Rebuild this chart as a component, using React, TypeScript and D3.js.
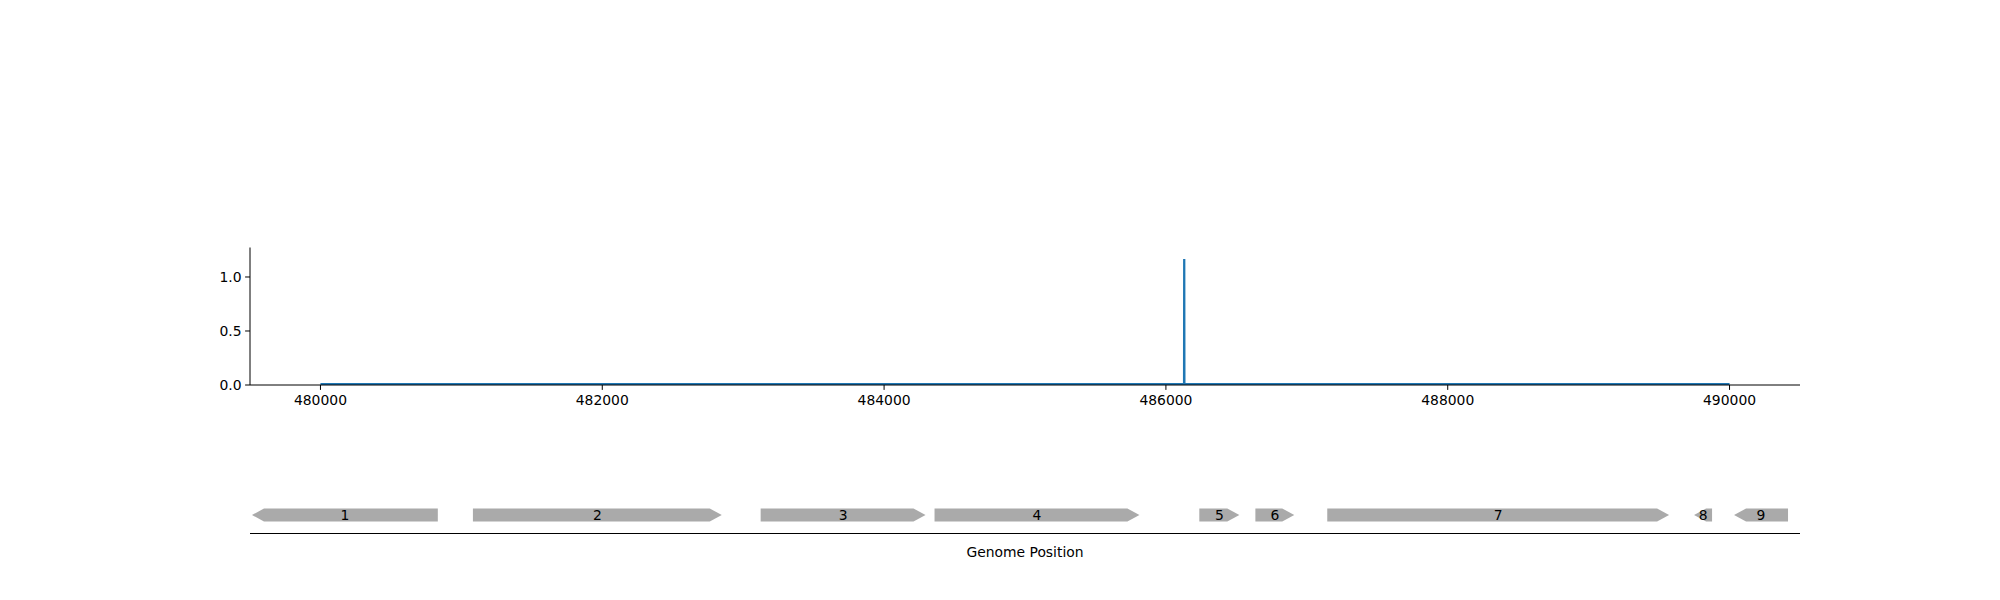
import * as d3 from 'd3';

// coverage trace: flat baseline with one spike
const traceX = [480000, 486128, 486129, 486131, 486132, 490000];
const traceY = [0.01, 0.01, 1.157, 1.157, 0.01, 0.01];

const xTicks = [480000, 482000, 484000, 486000, 488000, 490000];
const yTicks = [0, 0.5, 1.0];

const geneLabels = ['1', '2', '3', '4', '5', '6', '7', '8', '9'];
const geneStart = [479514, 481082, 483124, 484358, 486237, 486635, 487145, 489748, 490032];
const geneEnd = [480833, 482848, 484294, 485812, 486521, 486911, 489571, 489876, 490415];
const geneStrand = [-1, 1, 1, 1, 1, 1, 1, -1, -1];

const W = 2000;
const H = 600;
const left = 250;
const right = 1800;
const font = 'DejaVu Sans, sans-serif';

export default function App() {
  const x = d3.scaleLinear().domain([479500, 490500]).range([left, right]);
  const y = d3.scaleLinear().domain([0, 1.273]).range([385, 247.5]);

  const line = d3
    .line<number>()
    .x((_, i) => x(traceX[i]))
    .y((d) => y(d));

  const geneY = 515;
  const gh = 13;
  const head = 12;

  const genePath = (i: number) => {
    const a = x(geneStart[i]);
    const b = x(geneEnd[i]);
    const t = geneY - gh / 2;
    const bt = geneY + gh / 2;
    const hl = Math.min(head, b - a);
    if (geneStrand[i] > 0) {
      return `M${a},${t}L${b - hl},${t}L${b},${geneY}L${b - hl},${bt}L${a},${bt}Z`;
    }
    return `M${b},${t}L${a + hl},${t}L${a},${geneY}L${a + hl},${bt}L${b},${bt}Z`;
  };

  return (
    <div style={{ position: 'fixed', top: 0, left: 0 }}>
      <svg width={W} height={H} style={{ background: 'white', display: 'block' }}>
        {/* coverage panel */}
        <path d={line(traceY) ?? ''} fill="none" stroke="#1f77b4" strokeWidth={2} />
        <line x1={left} x2={left} y1={247.5} y2={385} stroke="black" strokeWidth={1} />
        <line x1={left} x2={right} y1={385} y2={385} stroke="black" strokeWidth={1} />
        {yTicks.map((t) => (
          <g key={t} transform={`translate(${left},${y(t)})`}>
            <line x1={-4.9} x2={0} stroke="black" />
            <text x={-8.4} dy="0.35em" textAnchor="end" fontFamily={font} fontSize={13.9}>
              {t.toFixed(1)}
            </text>
          </g>
        ))}
        {xTicks.map((t) => (
          <g key={t} transform={`translate(${x(t)},385)`}>
            <line y1={0} y2={4.9} stroke="black" />
            <text y={8.4} dy="0.8em" textAnchor="middle" fontFamily={font} fontSize={13.9}>
              {t}
            </text>
          </g>
        ))}

        {/* gene track */}
        {geneLabels.map((g, i) => (
          <g key={g}>
            <path d={genePath(i)} fill="#aaaaaa" />
            <text
              x={(x(geneStart[i]) + x(geneEnd[i])) / 2}
              y={geneY}
              dy="0.35em"
              textAnchor="middle"
              fontFamily={font}
              fontSize={13.9}
            >
              {g}
            </text>
          </g>
        ))}
        <line x1={left} x2={right} y1={533.5} y2={533.5} stroke="black" strokeWidth={1} />
        <text x={(left + right) / 2} y={546} dy="0.8em" textAnchor="middle" fontFamily={font} fontSize={13.9}>
          Genome Position
        </text>
      </svg>
    </div>
  );
}
